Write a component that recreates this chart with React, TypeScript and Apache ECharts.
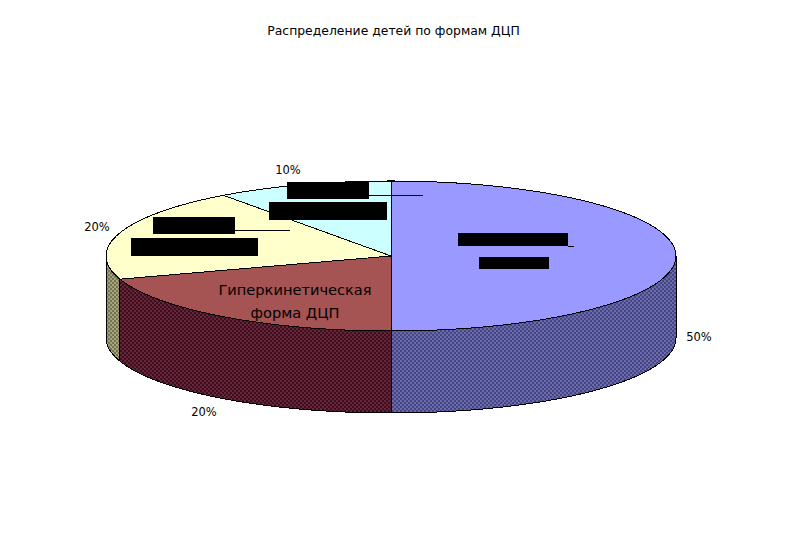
import React, { useEffect, useRef } from "react";
import * as echarts from "echarts";

const titleText = "Распределение детей по формам ДЦП";
const values = [50, 20, 20, 10];
const topColors = ["#9999FF", "#A65353", "#FFFFCC", "#CCFFFF"];
const sideLight = ["#6A6AAE", "#662838", "#A4A47C", "#8EB0B0"];
const sideDark = ["#464680", "#3E0E20", "#747450", "#508080"];
const insideLabel = "Гиперкинетическая\nформа ДЦП";

const CX = 391, CY = 256, RX = 285, RY = 75, DEPTH = 82;

function patternFor(i: number) {
  const c = document.createElement("canvas");
  c.width = 8;
  c.height = 8;
  const g = c.getContext("2d")!;
  g.fillStyle = sideDark[i];
  g.fillRect(0, 0, 8, 8);
  g.fillStyle = sideLight[i];
  for (let y = 0; y < 8; y += 2)
    for (let x = 0; x < 8; x += 2)
      if ((x + y) % 4 === 0) g.fillRect(x, y, 2, 2);
  return { image: c.toDataURL(), repeat: "repeat", imageWidth: 8, imageHeight: 8 };
}

const pt = (frac: number, dy = 0): number[] => {
  const a = frac * 2 * Math.PI;
  return [CX + RX * Math.sin(a), CY - RY * Math.cos(a) + dy];
};

function arc(from: number, to: number, dy = 0): number[][] {
  const n = Math.max(2, Math.ceil((to - from) * 400));
  const out: number[][] = [];
  for (let k = 0; k <= n; k += 1) out.push(pt(from + ((to - from) * k) / n, dy));
  return out;
}

export default function App() {
  const ref = useRef<HTMLDivElement>(null);
  useEffect(() => {
    const chart = echarts.init(ref.current!, undefined, { renderer: "svg" });
    const total = values.reduce((a, b) => a + b, 0);
    let acc = 0;
    const data = values.map((v) => {
      const row = [v, acc];
      acc += v;
      return row;
    });
    const black = "#000";
    const txt = (x: number, y: number, text: string, size = 11.5) => ({
      type: "text",
      x,
      y,
      z: 20,
      silent: true,
      style: { text, fill: black, font: `${size}px "DejaVu Sans", sans-serif`, textAlign: "center", textVerticalAlign: "middle", textLineHeight: 23 } as any,
    });
    const redact = (x: number, y: number, w: number, h: number) => ({
      type: "rect",
      z: 20,
      shape: { x, y, width: w, height: h },
      style: { fill: black },
    });
    const seg = (x1: number, y1: number, x2: number, y2: number) => ({
      type: "line",
      z: 20,
      shape: { x1, y1, x2, y2 },
      style: { stroke: black, lineWidth: 1 },
    });
    chart.setOption({
      animation: false,
      backgroundColor: "#fff",
      title: {
        text: titleText,
        left: 388.5,
        top: 19,
        textAlign: "center",
        textStyle: { fontFamily: "DejaVu Sans", fontSize: 12.4, fontWeight: "normal", color: "#000" },
      },
      series: [
        {
          type: "custom",
          coordinateSystem: "none",
          data,
          silent: true,
          renderItem: (params: any, api: any) => {
            const i = params.dataIndex;
            const from = api.value(1) / total;
            const to = from + api.value(0) / total;
            const children: any[] = [];
            const sFrom = Math.max(from, 0.25);
            const sTo = Math.min(to, 0.75);
            if (sFrom < sTo) {
              const pts = arc(sFrom, sTo).concat(arc(sFrom, sTo, DEPTH).reverse());
              children.push({
                type: "polygon",
                z2: 1,
                shape: { points: pts },
                style: { fill: patternFor(i), stroke: black, lineWidth: 1 },
              });
            }
            children.push({
              type: "polygon",
              z2: 2,
              shape: { points: [[CX, CY], ...arc(from, to)] },
              style: { fill: topColors[i], stroke: black, lineWidth: 1 },
            });
            return { type: "group", children };
          },
        },
      ],
      graphic: {
        elements: [
          txt(288, 170, `${values[3]}%`),
          txt(97, 227, `${values[2]}%`),
          txt(699, 337, `${values[0]}%`),
          txt(204, 412, `${values[1]}%`),
          txt(295, 301, insideLabel, 14.6),
          seg(369, 195.5, 423, 195.5),
          seg(235, 230.5, 290, 230.5),
          seg(568, 246.5, 574, 246.5),
          redact(287, 182, 82, 17),
          redact(269, 202, 118, 18),
          redact(153, 217, 82, 17),
          redact(131, 238, 127, 18),
          redact(458, 233, 110, 13),
          redact(479, 257, 70, 12),
        ],
      },
    });
    return () => chart.dispose();
  }, []);
  return (
    <>
      <style>{`body{margin:0} svg path{shape-rendering:crispEdges}`}</style>
      <div ref={ref} style={{ width: 785, height: 549 }} />
    </>
  );
}
